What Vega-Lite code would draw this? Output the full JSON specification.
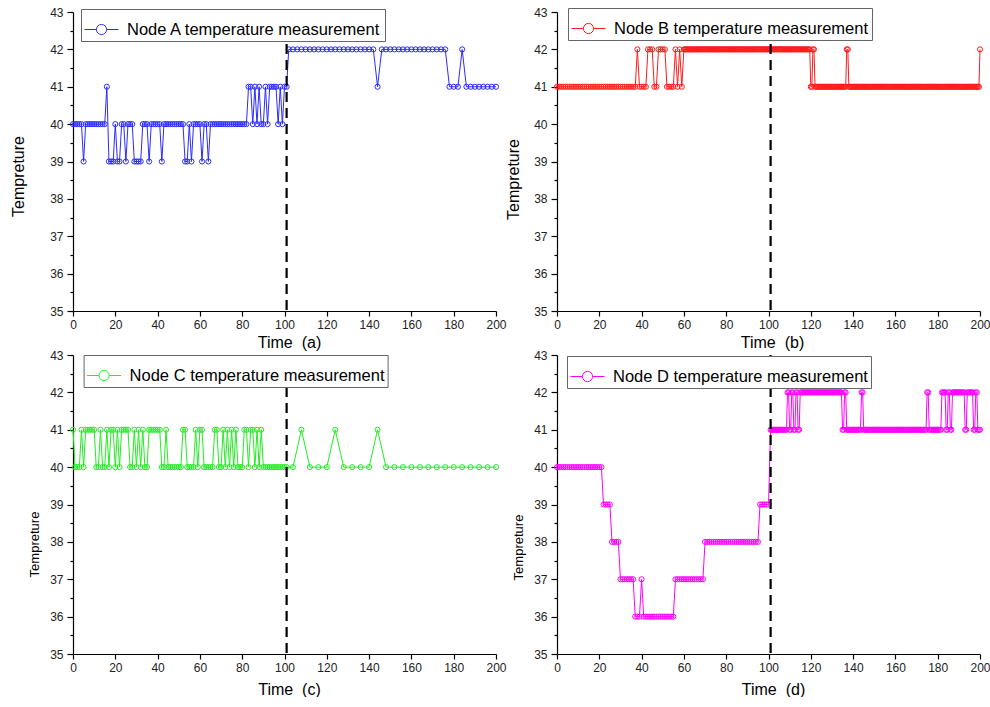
{
"$schema": "https://vega.github.io/schema/vega-lite/v6.json",
"background": "white",
"padding": {"left": 10, "top": 6, "right": 0, "bottom": 0},
"config": {
 "font": "Liberation Sans",
 "view": {"stroke": null},
 "axis": {"grid": false, "domainColor": "#000", "domainWidth": 1.2, "tickColor": "#000", "tickWidth": 1.2, "labelColor": "#222", "labelFontSize": 12, "labelFont": "Liberation Sans", "titleFont": "Liberation Sans", "titleColor": "#000", "titleFontWeight": "normal", "labelPadding": 3, "labelFlush": false, "labelOverlap": false},
 "legend": {"orient": "none", "fillColor": "white", "strokeColor": "#666", "padding": 3, "labelFontSize": 16.5, "labelFont": "Liberation Sans", "labelColor": "#000", "labelLimit": 400, "labelOffset": 8, "symbolStrokeWidth": 1, "symbolFillColor": "transparent", "cornerRadius": 0}
},
"datasets": {
 "cut": [{"t": 101}],
 "A": [{"t":0,"v":40},{"t":1,"v":40},{"t":2,"v":40},{"t":3,"v":40},{"t":4,"v":40},{"t":5,"v":39},{"t":6,"v":40},{"t":7,"v":40},{"t":8,"v":40},{"t":9,"v":40},{"t":10,"v":40},{"t":11,"v":40},{"t":12,"v":40},{"t":13,"v":40},{"t":14,"v":40},{"t":15,"v":40},{"t":16,"v":41},{"t":17,"v":39},{"t":18,"v":39},{"t":19,"v":39},{"t":20,"v":40},{"t":21,"v":39},{"t":22,"v":39},{"t":23,"v":40},{"t":24,"v":40},{"t":25,"v":39},{"t":26,"v":40},{"t":27,"v":40},{"t":28,"v":40},{"t":29,"v":39},{"t":30,"v":39},{"t":31,"v":39},{"t":32,"v":39},{"t":33,"v":40},{"t":34,"v":40},{"t":35,"v":40},{"t":36,"v":39},{"t":37,"v":40},{"t":38,"v":40},{"t":39,"v":40},{"t":40,"v":40},{"t":41,"v":40},{"t":42,"v":39},{"t":43,"v":40},{"t":44,"v":40},{"t":45,"v":40},{"t":46,"v":40},{"t":47,"v":40},{"t":48,"v":40},{"t":49,"v":40},{"t":50,"v":40},{"t":51,"v":40},{"t":52,"v":40},{"t":53,"v":39},{"t":54,"v":39},{"t":55,"v":40},{"t":56,"v":39},{"t":57,"v":40},{"t":58,"v":40},{"t":59,"v":40},{"t":60,"v":40},{"t":61,"v":39},{"t":62,"v":40},{"t":63,"v":40},{"t":64,"v":39},{"t":65,"v":40},{"t":66,"v":40},{"t":67,"v":40},{"t":68,"v":40},{"t":69,"v":40},{"t":70,"v":40},{"t":71,"v":40},{"t":72,"v":40},{"t":73,"v":40},{"t":74,"v":40},{"t":75,"v":40},{"t":76,"v":40},{"t":77,"v":40},{"t":78,"v":40},{"t":79,"v":40},{"t":80,"v":40},{"t":81,"v":40},{"t":82,"v":40},{"t":83,"v":41},{"t":84,"v":41},{"t":85,"v":40},{"t":86,"v":41},{"t":87,"v":40},{"t":88,"v":41},{"t":89,"v":40},{"t":90,"v":40},{"t":91,"v":41},{"t":92,"v":40},{"t":93,"v":41},{"t":94,"v":41},{"t":95,"v":41},{"t":96,"v":41},{"t":97,"v":40},{"t":98,"v":41},{"t":99,"v":40},{"t":100,"v":41},{"t":101,"v":41},{"t":102,"v":42},{"t":104,"v":42},{"t":106,"v":42},{"t":108,"v":42},{"t":110,"v":42},{"t":112,"v":42},{"t":114,"v":42},{"t":116,"v":42},{"t":118,"v":42},{"t":120,"v":42},{"t":122,"v":42},{"t":124,"v":42},{"t":126,"v":42},{"t":128,"v":42},{"t":130,"v":42},{"t":132,"v":42},{"t":134,"v":42},{"t":136,"v":42},{"t":138,"v":42},{"t":140,"v":42},{"t":142,"v":42},{"t":144,"v":41},{"t":146,"v":42},{"t":148,"v":42},{"t":150,"v":42},{"t":152,"v":42},{"t":154,"v":42},{"t":156,"v":42},{"t":158,"v":42},{"t":160,"v":42},{"t":162,"v":42},{"t":164,"v":42},{"t":166,"v":42},{"t":168,"v":42},{"t":170,"v":42},{"t":172,"v":42},{"t":174,"v":42},{"t":176,"v":42},{"t":178,"v":41},{"t":180,"v":41},{"t":182,"v":41},{"t":184,"v":42},{"t":186,"v":41},{"t":188,"v":41},{"t":190,"v":41},{"t":192,"v":41},{"t":194,"v":41},{"t":196,"v":41},{"t":198,"v":41},{"t":200,"v":41}],
 "B": [{"t":0,"v":41},{"t":1,"v":41},{"t":2,"v":41},{"t":3,"v":41},{"t":4,"v":41},{"t":5,"v":41},{"t":6,"v":41},{"t":7,"v":41},{"t":8,"v":41},{"t":9,"v":41},{"t":10,"v":41},{"t":11,"v":41},{"t":12,"v":41},{"t":13,"v":41},{"t":14,"v":41},{"t":15,"v":41},{"t":16,"v":41},{"t":17,"v":41},{"t":18,"v":41},{"t":19,"v":41},{"t":20,"v":41},{"t":21,"v":41},{"t":22,"v":41},{"t":23,"v":41},{"t":24,"v":41},{"t":25,"v":41},{"t":26,"v":41},{"t":27,"v":41},{"t":28,"v":41},{"t":29,"v":41},{"t":30,"v":41},{"t":31,"v":41},{"t":32,"v":41},{"t":33,"v":41},{"t":34,"v":41},{"t":35,"v":41},{"t":36,"v":41},{"t":37,"v":41},{"t":38,"v":42},{"t":39,"v":41},{"t":40,"v":41},{"t":41,"v":41},{"t":42,"v":41},{"t":43,"v":42},{"t":44,"v":42},{"t":45,"v":42},{"t":46,"v":41},{"t":47,"v":41},{"t":48,"v":42},{"t":49,"v":42},{"t":50,"v":42},{"t":51,"v":42},{"t":52,"v":41},{"t":53,"v":41},{"t":54,"v":41},{"t":55,"v":41},{"t":56,"v":42},{"t":57,"v":41},{"t":58,"v":42},{"t":59,"v":41},
 {"t":60,"v":42},{"t":60.5,"v":42},{"t":61,"v":42},{"t":61.5,"v":42},{"t":62,"v":42},{"t":62.5,"v":42},{"t":63,"v":42},{"t":63.5,"v":42},{"t":64,"v":42},{"t":64.5,"v":42},{"t":65,"v":42},{"t":65.5,"v":42},{"t":66,"v":42},{"t":66.5,"v":42},{"t":67,"v":42},{"t":67.5,"v":42},{"t":68,"v":42},{"t":68.5,"v":42},{"t":69,"v":42},{"t":69.5,"v":42},{"t":70,"v":42},{"t":70.5,"v":42},{"t":71,"v":42},{"t":71.5,"v":42},{"t":72,"v":42},{"t":72.5,"v":42},{"t":73,"v":42},{"t":73.5,"v":42},{"t":74,"v":42},{"t":74.5,"v":42},{"t":75,"v":42},{"t":75.5,"v":42},{"t":76,"v":42},{"t":76.5,"v":42},{"t":77,"v":42},{"t":77.5,"v":42},{"t":78,"v":42},{"t":78.5,"v":42},{"t":79,"v":42},{"t":79.5,"v":42},{"t":80,"v":42},{"t":80.5,"v":42},{"t":81,"v":42},{"t":81.5,"v":42},{"t":82,"v":42},{"t":82.5,"v":42},{"t":83,"v":42},{"t":83.5,"v":42},{"t":84,"v":42},{"t":84.5,"v":42},{"t":85,"v":42},{"t":85.5,"v":42},{"t":86,"v":42},{"t":86.5,"v":42},{"t":87,"v":42},{"t":87.5,"v":42},{"t":88,"v":42},{"t":88.5,"v":42},{"t":89,"v":42},{"t":89.5,"v":42},{"t":90,"v":42},{"t":90.5,"v":42},{"t":91,"v":42},{"t":91.5,"v":42},{"t":92,"v":42},{"t":92.5,"v":42},{"t":93,"v":42},{"t":93.5,"v":42},{"t":94,"v":42},{"t":94.5,"v":42},{"t":95,"v":42},{"t":95.5,"v":42},{"t":96,"v":42},{"t":96.5,"v":42},{"t":97,"v":42},{"t":97.5,"v":42},{"t":98,"v":42},{"t":98.5,"v":42},{"t":99,"v":42},{"t":99.5,"v":42},{"t":100,"v":42},{"t":100.5,"v":42},{"t":101,"v":42},{"t":101.5,"v":42},{"t":102,"v":42},{"t":102.5,"v":42},{"t":103,"v":42},{"t":103.5,"v":42},{"t":104,"v":42},{"t":104.5,"v":42},{"t":105,"v":42},{"t":105.5,"v":42},{"t":106,"v":42},{"t":106.5,"v":42},{"t":107,"v":42},{"t":107.5,"v":42},{"t":108,"v":42},{"t":108.5,"v":42},{"t":109,"v":42},{"t":109.5,"v":42},{"t":110,"v":42},{"t":110.5,"v":42},{"t":111,"v":42},{"t":111.5,"v":42},{"t":112,"v":42},{"t":112.5,"v":42},{"t":113,"v":42},{"t":113.5,"v":42},{"t":114,"v":42},{"t":114.5,"v":42},{"t":115,"v":42},{"t":115.5,"v":42},{"t":116,"v":42},{"t":116.5,"v":42},{"t":117,"v":42},{"t":117.5,"v":42},{"t":118,"v":42},{"t":118.5,"v":42},{"t":119,"v":42},{"t":119.5,"v":42},{"t":120,"v":41},{"t":120.5,"v":41},{"t":121,"v":42},{"t":121.5,"v":42},{"t":122,"v":41},{"t":122.5,"v":41},{"t":123,"v":41},{"t":123.5,"v":41},{"t":124,"v":41},{"t":124.5,"v":41},{"t":125,"v":41},{"t":125.5,"v":41},{"t":126,"v":41},{"t":126.5,"v":41},{"t":127,"v":41},{"t":127.5,"v":41},{"t":128,"v":41},{"t":128.5,"v":41},{"t":129,"v":41},{"t":129.5,"v":41},{"t":130,"v":41},{"t":130.5,"v":41},{"t":131,"v":41},{"t":131.5,"v":41},{"t":132,"v":41},{"t":132.5,"v":41},{"t":133,"v":41},{"t":133.5,"v":41},{"t":134,"v":41},{"t":134.5,"v":41},{"t":135,"v":41},{"t":135.5,"v":41},{"t":136,"v":41},{"t":136.5,"v":41},{"t":137,"v":42},{"t":137.5,"v":42},{"t":138,"v":41},{"t":138.5,"v":41},{"t":139,"v":41},{"t":139.5,"v":41},{"t":140,"v":41},{"t":140.5,"v":41},{"t":141,"v":41},{"t":141.5,"v":41},{"t":142,"v":41},{"t":142.5,"v":41},{"t":143,"v":41},{"t":143.5,"v":41},{"t":144,"v":41},{"t":144.5,"v":41},{"t":145,"v":41},{"t":145.5,"v":41},{"t":146,"v":41},{"t":146.5,"v":41},{"t":147,"v":41},{"t":147.5,"v":41},{"t":148,"v":41},{"t":148.5,"v":41},{"t":149,"v":41},{"t":149.5,"v":41},{"t":150,"v":41},{"t":150.5,"v":41},{"t":151,"v":41},{"t":151.5,"v":41},{"t":152,"v":41},{"t":152.5,"v":41},{"t":153,"v":41},{"t":153.5,"v":41},{"t":154,"v":41},{"t":154.5,"v":41},{"t":155,"v":41},{"t":155.5,"v":41},{"t":156,"v":41},{"t":156.5,"v":41},{"t":157,"v":41},{"t":157.5,"v":41},{"t":158,"v":41},{"t":158.5,"v":41},{"t":159,"v":41},{"t":159.5,"v":41},{"t":160,"v":41},{"t":160.5,"v":41},{"t":161,"v":41},{"t":161.5,"v":41},{"t":162,"v":41},{"t":162.5,"v":41},{"t":163,"v":41},{"t":163.5,"v":41},{"t":164,"v":41},{"t":164.5,"v":41},{"t":165,"v":41},{"t":165.5,"v":41},{"t":166,"v":41},{"t":166.5,"v":41},{"t":167,"v":41},{"t":167.5,"v":41},{"t":168,"v":41},{"t":168.5,"v":41},{"t":169,"v":41},{"t":169.5,"v":41},{"t":170,"v":41},{"t":170.5,"v":41},{"t":171,"v":41},{"t":171.5,"v":41},{"t":172,"v":41},{"t":172.5,"v":41},{"t":173,"v":41},{"t":173.5,"v":41},{"t":174,"v":41},{"t":174.5,"v":41},{"t":175,"v":41},{"t":175.5,"v":41},{"t":176,"v":41},{"t":176.5,"v":41},{"t":177,"v":41},{"t":177.5,"v":41},{"t":178,"v":41},{"t":178.5,"v":41},{"t":179,"v":41},{"t":179.5,"v":41},{"t":180,"v":41},{"t":180.5,"v":41},{"t":181,"v":41},{"t":181.5,"v":41},{"t":182,"v":41},{"t":182.5,"v":41},{"t":183,"v":41},{"t":183.5,"v":41},{"t":184,"v":41},{"t":184.5,"v":41},{"t":185,"v":41},{"t":185.5,"v":41},{"t":186,"v":41},{"t":186.5,"v":41},{"t":187,"v":41},{"t":187.5,"v":41},{"t":188,"v":41},{"t":188.5,"v":41},{"t":189,"v":41},{"t":189.5,"v":41},{"t":190,"v":41},{"t":190.5,"v":41},{"t":191,"v":41},{"t":191.5,"v":41},{"t":192,"v":41},{"t":192.5,"v":41},{"t":193,"v":41},{"t":193.5,"v":41},{"t":194,"v":41},{"t":194.5,"v":41},{"t":195,"v":41},{"t":195.5,"v":41},{"t":196,"v":41},{"t":196.5,"v":41},{"t":197,"v":41},{"t":197.5,"v":41},{"t":198,"v":41},{"t":198.5,"v":41},{"t":199,"v":41},{"t":199.5,"v":41},{"t":200,"v":42}],
 "C": [{"t":0,"v":41},{"t":1,"v":40},{"t":2,"v":40},{"t":3,"v":40},{"t":4,"v":41},{"t":5,"v":40},{"t":6,"v":41},{"t":7,"v":41},{"t":8,"v":41},{"t":9,"v":41},{"t":10,"v":41},{"t":11,"v":40},{"t":12,"v":40},{"t":13,"v":41},{"t":14,"v":40},{"t":15,"v":40},{"t":16,"v":41},{"t":17,"v":40},{"t":18,"v":41},{"t":19,"v":41},{"t":20,"v":40},{"t":21,"v":41},{"t":22,"v":40},{"t":23,"v":41},{"t":24,"v":41},{"t":25,"v":41},{"t":26,"v":41},{"t":27,"v":40},{"t":28,"v":40},{"t":29,"v":41},{"t":30,"v":40},{"t":31,"v":41},{"t":32,"v":40},{"t":33,"v":41},{"t":34,"v":40},{"t":35,"v":40},{"t":36,"v":41},{"t":37,"v":41},{"t":38,"v":41},{"t":39,"v":41},{"t":40,"v":41},{"t":41,"v":41},{"t":42,"v":40},{"t":43,"v":40},{"t":44,"v":41},{"t":45,"v":40},{"t":46,"v":40},{"t":47,"v":40},{"t":48,"v":40},{"t":49,"v":40},{"t":50,"v":40},{"t":51,"v":40},{"t":52,"v":41},{"t":53,"v":41},{"t":54,"v":40},{"t":55,"v":40},{"t":56,"v":40},{"t":57,"v":40},{"t":58,"v":41},{"t":59,"v":40},{"t":60,"v":41},{"t":61,"v":41},{"t":62,"v":40},{"t":63,"v":40},{"t":64,"v":40},{"t":65,"v":40},{"t":66,"v":40},{"t":67,"v":41},{"t":68,"v":41},{"t":69,"v":40},{"t":70,"v":40},{"t":71,"v":41},{"t":72,"v":40},{"t":73,"v":41},{"t":74,"v":40},{"t":75,"v":41},{"t":76,"v":40},{"t":77,"v":41},{"t":78,"v":40},{"t":79,"v":40},{"t":80,"v":40},{"t":81,"v":41},{"t":82,"v":41},{"t":83,"v":40},{"t":84,"v":41},{"t":85,"v":41},{"t":86,"v":40},{"t":87,"v":41},{"t":88,"v":40},{"t":89,"v":41},{"t":90,"v":40},{"t":91,"v":40},{"t":92,"v":40},{"t":93,"v":40},{"t":94,"v":40},{"t":95,"v":40},{"t":96,"v":40},{"t":97,"v":40},{"t":98,"v":40},{"t":99,"v":40},{"t":100,"v":40},{"t":101,"v":40},{"t":104,"v":40},{"t":108,"v":41},{"t":112,"v":40},{"t":116,"v":40},{"t":120,"v":40},{"t":124,"v":41},{"t":128,"v":40},{"t":132,"v":40},{"t":136,"v":40},{"t":140,"v":40},{"t":144,"v":41},{"t":148,"v":40},{"t":152,"v":40},{"t":156,"v":40},{"t":160,"v":40},{"t":164,"v":40},{"t":168,"v":40},{"t":172,"v":40},{"t":176,"v":40},{"t":180,"v":40},{"t":184,"v":40},{"t":188,"v":40},{"t":192,"v":40},{"t":196,"v":40},{"t":200,"v":40}],
 "D": [{"t":0,"v":40},{"t":1,"v":40},{"t":2,"v":40},{"t":3,"v":40},{"t":4,"v":40},{"t":5,"v":40},{"t":6,"v":40},{"t":7,"v":40},{"t":8,"v":40},{"t":9,"v":40},{"t":10,"v":40},{"t":11,"v":40},{"t":12,"v":40},{"t":13,"v":40},{"t":14,"v":40},{"t":15,"v":40},{"t":16,"v":40},{"t":17,"v":40},{"t":18,"v":40},{"t":19,"v":40},{"t":20,"v":40},{"t":21,"v":40},{"t":22,"v":39},{"t":23,"v":39},{"t":24,"v":39},{"t":25,"v":39},{"t":26,"v":38},{"t":27,"v":38},{"t":28,"v":38},{"t":29,"v":38},{"t":30,"v":37},{"t":31,"v":37},{"t":32,"v":37},{"t":33,"v":37},{"t":34,"v":37},{"t":35,"v":37},{"t":36,"v":37},{"t":37,"v":36},{"t":38,"v":36},{"t":39,"v":36},{"t":40,"v":37},{"t":41,"v":36},{"t":42,"v":36},{"t":43,"v":36},{"t":44,"v":36},{"t":45,"v":36},{"t":46,"v":36},{"t":47,"v":36},{"t":48,"v":36},{"t":49,"v":36},{"t":50,"v":36},{"t":51,"v":36},{"t":52,"v":36},{"t":53,"v":36},{"t":54,"v":36},{"t":55,"v":36},{"t":56,"v":37},{"t":57,"v":37},{"t":58,"v":37},{"t":59,"v":37},{"t":60,"v":37},{"t":61,"v":37},{"t":62,"v":37},{"t":63,"v":37},{"t":64,"v":37},{"t":65,"v":37},{"t":66,"v":37},{"t":67,"v":37},{"t":68,"v":37},{"t":69,"v":37},{"t":70,"v":38},{"t":71,"v":38},{"t":72,"v":38},{"t":73,"v":38},{"t":74,"v":38},{"t":75,"v":38},{"t":76,"v":38},{"t":77,"v":38},{"t":78,"v":38},{"t":79,"v":38},{"t":80,"v":38},{"t":81,"v":38},{"t":82,"v":38},{"t":83,"v":38},{"t":84,"v":38},{"t":85,"v":38},{"t":86,"v":38},{"t":87,"v":38},{"t":88,"v":38},{"t":89,"v":38},{"t":90,"v":38},{"t":91,"v":38},{"t":92,"v":38},{"t":93,"v":38},{"t":94,"v":38},{"t":95,"v":38},{"t":96,"v":39},{"t":97,"v":39},{"t":98,"v":39},{"t":99,"v":39},{"t":100,"v":39},
 {"t":101,"v":41},{"t":101.5,"v":41},{"t":102,"v":41},{"t":102.5,"v":41},{"t":103,"v":41},{"t":103.5,"v":41},{"t":104,"v":41},{"t":104.5,"v":41},{"t":105,"v":41},{"t":105.5,"v":41},{"t":106,"v":41},{"t":106.5,"v":41},{"t":107,"v":41},{"t":107.5,"v":41},{"t":108,"v":41},{"t":108.5,"v":41},{"t":109,"v":42},{"t":109.5,"v":42},{"t":110,"v":41},{"t":110.5,"v":41},{"t":111,"v":42},{"t":111.5,"v":42},{"t":112,"v":41},{"t":112.5,"v":41},{"t":113,"v":42},{"t":113.5,"v":42},{"t":114,"v":41},{"t":114.5,"v":41},{"t":115,"v":42},{"t":115.5,"v":42},{"t":116,"v":42},{"t":116.5,"v":42},{"t":117,"v":42},{"t":117.5,"v":42},{"t":118,"v":42},{"t":118.5,"v":42},{"t":119,"v":42},{"t":119.5,"v":42},{"t":120,"v":42},{"t":120.5,"v":42},{"t":121,"v":42},{"t":121.5,"v":42},{"t":122,"v":42},{"t":122.5,"v":42},{"t":123,"v":42},{"t":123.5,"v":42},{"t":124,"v":42},{"t":124.5,"v":42},{"t":125,"v":42},{"t":125.5,"v":42},{"t":126,"v":42},{"t":126.5,"v":42},{"t":127,"v":42},{"t":127.5,"v":42},{"t":128,"v":42},{"t":128.5,"v":42},{"t":129,"v":42},{"t":129.5,"v":42},{"t":130,"v":42},{"t":130.5,"v":42},{"t":131,"v":42},{"t":131.5,"v":42},{"t":132,"v":42},{"t":132.5,"v":42},{"t":133,"v":42},{"t":133.5,"v":42},{"t":134,"v":42},{"t":134.5,"v":42},{"t":135,"v":41},{"t":135.5,"v":41},{"t":136,"v":42},{"t":136.5,"v":42},{"t":137,"v":41},{"t":137.5,"v":41},{"t":138,"v":41},{"t":138.5,"v":41},{"t":139,"v":41},{"t":139.5,"v":41},{"t":140,"v":41},{"t":140.5,"v":41},{"t":141,"v":41},{"t":141.5,"v":41},{"t":142,"v":41},{"t":142.5,"v":41},{"t":143,"v":41},{"t":143.5,"v":41},{"t":144,"v":42},{"t":144.5,"v":42},{"t":145,"v":41},{"t":145.5,"v":41},{"t":146,"v":41},{"t":146.5,"v":41},{"t":147,"v":41},{"t":147.5,"v":41},{"t":148,"v":41},{"t":148.5,"v":41},{"t":149,"v":41},{"t":149.5,"v":41},{"t":150,"v":41},{"t":150.5,"v":41},{"t":151,"v":41},{"t":151.5,"v":41},{"t":152,"v":41},{"t":152.5,"v":41},{"t":153,"v":41},{"t":153.5,"v":41},{"t":154,"v":41},{"t":154.5,"v":41},{"t":155,"v":41},{"t":155.5,"v":41},{"t":156,"v":41},{"t":156.5,"v":41},{"t":157,"v":41},{"t":157.5,"v":41},{"t":158,"v":41},{"t":158.5,"v":41},{"t":159,"v":41},{"t":159.5,"v":41},{"t":160,"v":41},{"t":160.5,"v":41},{"t":161,"v":41},{"t":161.5,"v":41},{"t":162,"v":41},{"t":162.5,"v":41},{"t":163,"v":41},{"t":163.5,"v":41},{"t":164,"v":41},{"t":164.5,"v":41},{"t":165,"v":41},{"t":165.5,"v":41},{"t":166,"v":41},{"t":166.5,"v":41},{"t":167,"v":41},{"t":167.5,"v":41},{"t":168,"v":41},{"t":168.5,"v":41},{"t":169,"v":41},{"t":169.5,"v":41},{"t":170,"v":41},{"t":170.5,"v":41},{"t":171,"v":41},{"t":171.5,"v":41},{"t":172,"v":41},{"t":172.5,"v":41},{"t":173,"v":41},{"t":173.5,"v":41},{"t":174,"v":41},{"t":174.5,"v":41},{"t":175,"v":42},{"t":175.5,"v":42},{"t":176,"v":41},{"t":176.5,"v":41},{"t":177,"v":41},{"t":177.5,"v":41},{"t":178,"v":41},{"t":178.5,"v":41},{"t":179,"v":41},{"t":179.5,"v":41},{"t":180,"v":41},{"t":180.5,"v":41},{"t":181,"v":41},{"t":181.5,"v":41},{"t":182,"v":42},{"t":182.5,"v":42},{"t":183,"v":42},{"t":183.5,"v":42},{"t":184,"v":41},{"t":184.5,"v":41},{"t":185,"v":42},{"t":185.5,"v":42},{"t":186,"v":41},{"t":186.5,"v":41},{"t":187,"v":42},{"t":187.5,"v":42},{"t":188,"v":42},{"t":188.5,"v":42},{"t":189,"v":42},{"t":189.5,"v":42},{"t":190,"v":42},{"t":190.5,"v":42},{"t":191,"v":42},{"t":191.5,"v":42},{"t":192,"v":42},{"t":192.5,"v":42},{"t":193,"v":41},{"t":193.5,"v":41},{"t":194,"v":42},{"t":194.5,"v":42},{"t":195,"v":42},{"t":195.5,"v":42},{"t":196,"v":42},{"t":196.5,"v":42},{"t":197,"v":41},{"t":197.5,"v":41},{"t":198,"v":42},{"t":198.5,"v":42},{"t":199,"v":41},{"t":199.5,"v":41},{"t":200,"v":41}]
},
"columns": 2,
"spacing": {"row": 44, "column": 61},
"bounds": "flush",
"resolve": {"scale": {"color": "independent"}, "legend": {"color": "independent"}},
"concat": [
  {"width": 423, "height": 299,
   "layer": [
    {"data": {"name": "A"},
     "mark": {"type": "line", "strokeWidth": 1, "point": {"filled": false, "size": 26, "strokeWidth": 1}},
     "encoding": {
      "x": {"field": "t", "type": "quantitative", "scale": {"domain": [0, 200], "nice": false},
            "axis": {"title": "Time \u00a0(a)", "titleFontSize": 16, "titleX": 216, "titleY": 31.5, "titleBaseline": "middle", "titleAlign": "center", "values": [0,10,20,30,40,50,60,70,80,90,100,110,120,130,140,150,160,170,180,190,200], "labelExpr": "datum.value % 20 == 0 ? format(datum.value, 'd') : ''", "tickSize": {"condition": {"test": "datum.value % 20 != 0", "value": 3}, "value": 5}}},
      "y": {"field": "v", "type": "quantitative", "scale": {"domain": [35, 43], "nice": false, "zero": false},
            "axis": {"title": "Tempreture", "titleFontSize": 16, "titleX": -54.7, "titleY": 164, "titleAngle": -90, "titleAlign": "center", "titleBaseline": "middle", "values": [35,35.5,36,36.5,37,37.5,38,38.5,39,39.5,40,40.5,41,41.5,42,42.5,43], "labelExpr": "datum.value % 1 == 0 ? format(datum.value, 'd') : ''", "labelPadding": 4, "tickSize": {"condition": {"test": "datum.value % 1 != 0", "value": 3}, "value": 6}}},
      "color": {"datum": "Node A temperature measurement", "scale": {"range": ["#2b2bff"]},
                "legend": {"title": null, "legendX": 8, "legendY": -3, "symbolType": "M-1,0L-0.3,0M0.3,0L1,0M0.3,0A0.3,0.3,0,1,1,-0.3,0A0.3,0.3,0,1,1,0.3,0", "symbolSize": 1156}}
     }},
    {"data": {"name": "cut"}, "mark": {"type": "rule", "color": "black", "strokeWidth": 2.2, "strokeDash": [10, 6]},
     "encoding": {"x": {"field": "t", "type": "quantitative"}}}
   ]},
  {"width": 423, "height": 299,
   "layer": [
    {"data": {"name": "B"},
     "mark": {"type": "line", "strokeWidth": 1, "point": {"filled": false, "size": 26, "strokeWidth": 1}},
     "encoding": {
      "x": {"field": "t", "type": "quantitative", "scale": {"domain": [0, 200], "nice": false},
            "axis": {"title": "Time \u00a0(b)", "titleFontSize": 16, "titleX": 215, "titleY": 31.5, "titleBaseline": "middle", "titleAlign": "center", "values": [0,10,20,30,40,50,60,70,80,90,100,110,120,130,140,150,160,170,180,190,200], "labelExpr": "datum.value % 20 == 0 ? format(datum.value, 'd') : ''", "tickSize": {"condition": {"test": "datum.value % 20 != 0", "value": 3}, "value": 5}}},
      "y": {"field": "v", "type": "quantitative", "scale": {"domain": [35, 43], "nice": false, "zero": false},
            "axis": {"title": "Tempreture", "titleFontSize": 16, "titleX": -44, "titleY": 167, "titleAngle": -90, "titleAlign": "center", "titleBaseline": "middle", "values": [35,35.5,36,36.5,37,37.5,38,38.5,39,39.5,40,40.5,41,41.5,42,42.5,43], "labelExpr": "datum.value % 1 == 0 ? format(datum.value, 'd') : ''", "labelPadding": 4, "tickSize": {"condition": {"test": "datum.value % 1 != 0", "value": 3}, "value": 6}}},
      "color": {"datum": "Node B temperature measurement", "scale": {"range": ["#ff1a1a"]},
                "legend": {"title": null, "legendX": 11, "legendY": -4, "symbolType": "M-1,0L-0.3,0M0.3,0L1,0M0.3,0A0.3,0.3,0,1,1,-0.3,0A0.3,0.3,0,1,1,0.3,0", "symbolSize": 1156}}
     }},
    {"data": {"name": "cut"}, "mark": {"type": "rule", "color": "black", "strokeWidth": 2.2, "strokeDash": [10, 6]},
     "encoding": {"x": {"field": "t", "type": "quantitative"}}}
   ]},
  {"width": 423, "height": 299,
   "layer": [
    {"data": {"name": "C"},
     "mark": {"type": "line", "strokeWidth": 1, "point": {"filled": false, "size": 26, "strokeWidth": 1}},
     "encoding": {
      "x": {"field": "t", "type": "quantitative", "scale": {"domain": [0, 200], "nice": false},
            "axis": {"title": "Time \u00a0(c)", "titleFontSize": 16, "titleX": 216, "titleY": 35, "titleBaseline": "middle", "titleAlign": "center", "values": [0,10,20,30,40,50,60,70,80,90,100,110,120,130,140,150,160,170,180,190,200], "labelExpr": "datum.value % 20 == 0 ? format(datum.value, 'd') : ''", "tickSize": {"condition": {"test": "datum.value % 20 != 0", "value": 3}, "value": 5}}},
      "y": {"field": "v", "type": "quantitative", "scale": {"domain": [35, 43], "nice": false, "zero": false},
            "axis": {"title": "Tempreture", "titleFontSize": 13, "titleX": -38.7, "titleY": 189, "titleAngle": -90, "titleAlign": "center", "titleBaseline": "middle", "values": [35,35.5,36,36.5,37,37.5,38,38.5,39,39.5,40,40.5,41,41.5,42,42.5,43], "labelExpr": "datum.value % 1 == 0 ? format(datum.value, 'd') : ''", "labelPadding": 4, "tickSize": {"condition": {"test": "datum.value % 1 != 0", "value": 3}, "value": 6}}},
      "color": {"datum": "Node C temperature measurement", "scale": {"range": ["#22ee22"]},
                "legend": {"title": null, "legendX": 10.6, "legendY": 0, "symbolType": "M-1,0L-0.3,0M0.3,0L1,0M0.3,0A0.3,0.3,0,1,1,-0.3,0A0.3,0.3,0,1,1,0.3,0", "symbolSize": 1156}}
     }},
    {"data": {"name": "cut"}, "mark": {"type": "rule", "color": "black", "strokeWidth": 2.2, "strokeDash": [10, 6]},
     "encoding": {"x": {"field": "t", "type": "quantitative"}}}
   ]},
  {"width": 423, "height": 299,
   "layer": [
    {"data": {"name": "D"},
     "mark": {"type": "line", "strokeWidth": 1, "point": {"filled": false, "size": 26, "strokeWidth": 1}},
     "encoding": {
      "x": {"field": "t", "type": "quantitative", "scale": {"domain": [0, 200], "nice": false},
            "axis": {"title": "Time \u00a0(d)", "titleFontSize": 16, "titleX": 216, "titleY": 35, "titleBaseline": "middle", "titleAlign": "center", "values": [0,10,20,30,40,50,60,70,80,90,100,110,120,130,140,150,160,170,180,190,200], "labelExpr": "datum.value % 20 == 0 ? format(datum.value, 'd') : ''", "tickSize": {"condition": {"test": "datum.value % 20 != 0", "value": 3}, "value": 5}}},
      "y": {"field": "v", "type": "quantitative", "scale": {"domain": [35, 43], "nice": false, "zero": false},
            "axis": {"title": "Tempreture", "titleFontSize": 13, "titleX": -39, "titleY": 192, "titleAngle": -90, "titleAlign": "center", "titleBaseline": "middle", "values": [35,35.5,36,36.5,37,37.5,38,38.5,39,39.5,40,40.5,41,41.5,42,42.5,43], "labelExpr": "datum.value % 1 == 0 ? format(datum.value, 'd') : ''", "labelPadding": 4, "tickSize": {"condition": {"test": "datum.value % 1 != 0", "value": 3}, "value": 6}}},
      "color": {"datum": "Node D temperature measurement", "scale": {"range": ["#ff00ff"]},
                "legend": {"title": null, "legendX": 10, "legendY": 1, "symbolType": "M-1,0L-0.3,0M0.3,0L1,0M0.3,0A0.3,0.3,0,1,1,-0.3,0A0.3,0.3,0,1,1,0.3,0", "symbolSize": 1156}}
     }},
    {"data": {"name": "cut"}, "mark": {"type": "rule", "color": "black", "strokeWidth": 2.2, "strokeDash": [10, 6]},
     "encoding": {"x": {"field": "t", "type": "quantitative"}}}
   ]}
]
}
